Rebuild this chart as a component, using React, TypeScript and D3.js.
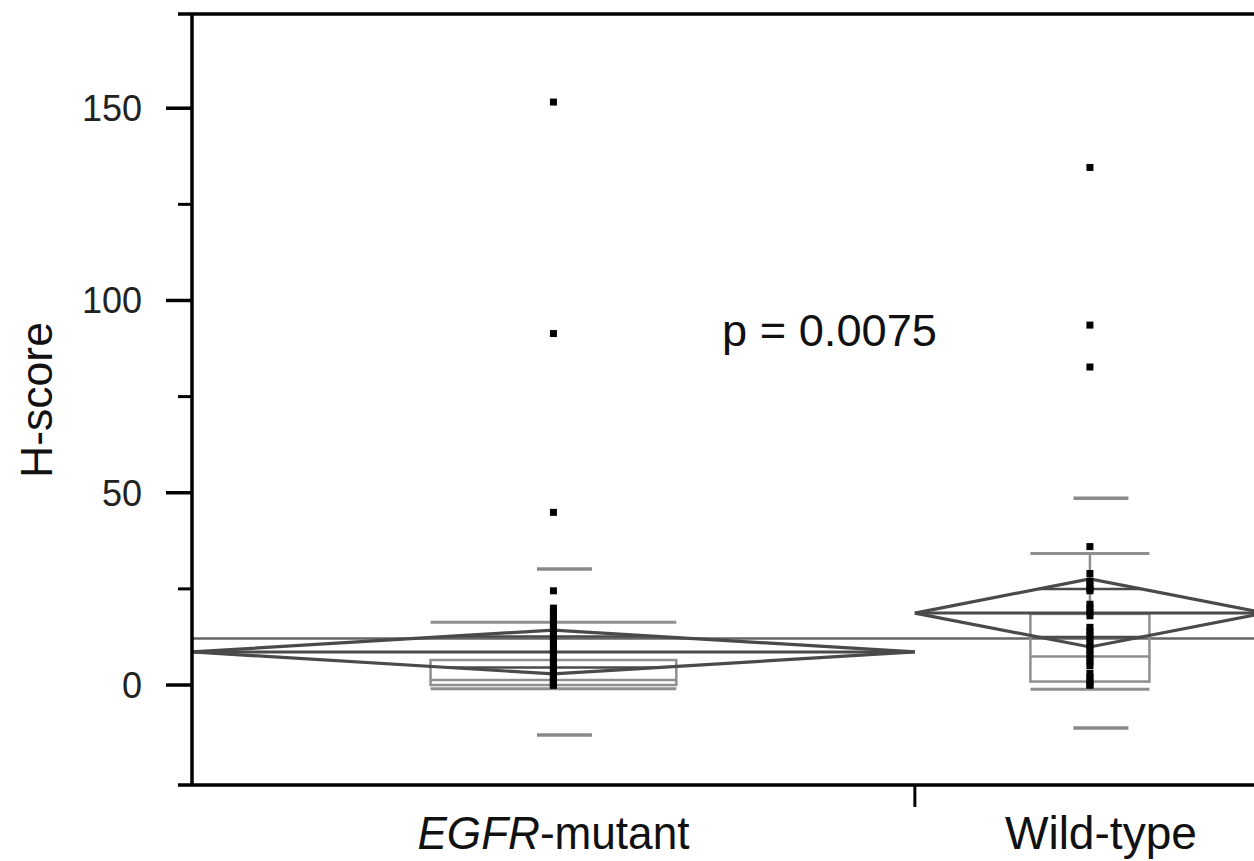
import React from "react";
import * as d3 from "d3";

// groups and summary stats (JMP-style oneway plot)
const categories = ["EGFR-mutant", "Wild-type"];
const groupCounts = [64, 31];
const groupMeans = [8.6, 18.7];
const ciLower = [2.9, 9.9];
const ciUpper = [14.3, 27.6];
const stdDevs = [21.6, 29.9];
const q10 = [-1.0, -1.1];
const q25 = [0.0, 0.9];
const medians = [1.3, 7.4];
const q75 = [6.5, 18.5];
const q90 = [16.3, 34.2];
const grandMean = 12.1;

const egfrPoints = [151.6, 91.4, 44.9, 24.5, 20, 19, 18, 17.5, 16, 15, 14, 13, 12.5, 12, 11, 10, 9.5, 9, 8, 7, 6.5, 6, 5, 4.5, 4, 3, 2.5, 2, 1.5, 1, 0.5, 0, 0, 0];
const wildPoints = [134.6, 93.6, 82.7, 36, 29, 27, 26, 25, 24.5, 21, 20, 19, 18, 15, 14, 13, 12, 11, 10, 9, 8, 7, 6, 5, 3, 2, 1, 0, 0];
const groupPoints = [egfrPoints, wildPoints];

const majorTicks = [0, 50, 100, 150];
const minorTicks = [25, 75, 125];
const pValueLabel = "p = 0.0075";

const W = 1254, H = 861;
const axisX = 192, plotTop = 14, plotBottom = 785;

export default function App() {
  const y = d3.scaleLinear().domain([-26, 174.5]).range([plotBottom, plotTop]);
  const total = d3.sum(groupCounts);
  const x = d3.scaleLinear().domain([0, total]).range([axisX, 1265]);
  const starts = d3.cumsum([0, ...groupCounts]);

  const groups = categories.map((c, i) => {
    const x0 = x(starts[i]), x1 = x(starts[i + 1]);
    return { c, i, x0, x1, cx: (x0 + x1) / 2, w: x1 - x0 };
  });

  const dark = "#4a4a4a", box = "#8f8f8f", sdc = "#8a8a8a";

  return (
    <div style={{ position: "absolute", left: 0, top: 0 }}>
      <svg width={W} height={H} style={{ display: "block", background: "#fff" }}
        fontFamily="'Liberation Sans', Arial, sans-serif">
        {/* grand mean */}
        <line x1={axisX} x2={W} y1={y(grandMean)} y2={y(grandMean)} stroke="#666" strokeWidth={2.5} />

        {groups.map(g => {
          const i = g.i;
          const bw = g.w * 0.34;
          const bx0 = g.cx - bw / 2, bx1 = g.cx + bw / 2;
          const sdx = g.cx + 11, sdw = 55;
          const m = groupMeans[i];
          const half = (ciUpper[i] - m) / Math.SQRT2;
          const halfLow = (m - ciLower[i]) / Math.SQRT2;
          const ow = (g.w / 2) * (1 - 1 / Math.SQRT2);
          const diamond = d3.line()([
            [g.x0, y(m)], [g.cx, y(ciUpper[i])], [g.x1, y(m)], [g.cx, y(ciLower[i])], [g.x0, y(m)]
          ]);
          return (
            <g key={g.c}>
              {/* quantile box */}
              <line x1={g.cx} x2={g.cx} y1={y(q75[i])} y2={y(q90[i])} stroke={box} strokeWidth={2.5} />
              <line x1={g.cx} x2={g.cx} y1={y(q25[i])} y2={y(q10[i])} stroke={box} strokeWidth={2.5} />
              <rect x={bx0} y={y(q75[i])} width={bw} height={y(q25[i]) - y(q75[i])} fill="none" stroke={box} strokeWidth={2.5} />
              <line x1={bx0} x2={bx1} y1={y(medians[i])} y2={y(medians[i])} stroke={box} strokeWidth={2.5} />
              <line x1={bx0} x2={bx1} y1={y(q90[i])} y2={y(q90[i])} stroke={box} strokeWidth={3} />
              <line x1={bx0} x2={bx1} y1={y(q10[i])} y2={y(q10[i])} stroke={box} strokeWidth={3} />
              {/* std dev lines */}
              {[m + stdDevs[i], m - stdDevs[i]].map((v, k) => (
                <line key={k} x1={sdx - sdw / 2} x2={sdx + sdw / 2} y1={y(v)} y2={y(v)} stroke={sdc} strokeWidth={3.5} />
              ))}
              {/* means diamond */}
              <path d={diamond ?? ""} fill="none" stroke={dark} strokeWidth={3.2} strokeLinejoin="miter" />
              <line x1={g.x0} x2={g.x1} y1={y(m)} y2={y(m)} stroke={dark} strokeWidth={3} />
              <line x1={g.cx - ow} x2={g.cx + ow} y1={y(m + half)} y2={y(m + half)} stroke={dark} strokeWidth={2.5} />
              <line x1={g.cx - ow} x2={g.cx + ow} y1={y(m - halfLow)} y2={y(m - halfLow)} stroke={dark} strokeWidth={2.5} />
              {/* points */}
              {groupPoints[i].map((v, k) => (
                <rect key={k} x={g.cx - 3.5} y={y(v) - 3.5} width={7} height={7} fill="#000" />
              ))}
            </g>
          );
        })}

        {/* frame and axes */}
        <line x1={178} x2={W} y1={plotTop} y2={plotTop} stroke="#000" strokeWidth={3.5} />
        <line x1={178} x2={W} y1={plotBottom} y2={plotBottom} stroke="#000" strokeWidth={3.5} />
        <line x1={axisX} x2={axisX} y1={plotTop} y2={plotBottom} stroke="#000" strokeWidth={3.5} />
        {majorTicks.map(t => (
          <g key={t}>
            <line x1={166} x2={axisX} y1={y(t)} y2={y(t)} stroke="#000" strokeWidth={3.5} />
            <text x={142} y={y(t)} dy="0.36em" textAnchor="end" fontSize={36} fill="#222">{t}</text>
          </g>
        ))}
        {minorTicks.map(t => (
          <line key={t} x1={178} x2={axisX} y1={y(t)} y2={y(t)} stroke="#000" strokeWidth={3} />
        ))}
        {groups.slice(1).map(g => (
          <line key={g.c} x1={g.x0} x2={g.x0} y1={plotBottom} y2={807} stroke="#000" strokeWidth={3} />
        ))}

        {/* x labels */}
        <text x={groups[0].cx} y={849} textAnchor="middle" fontSize={46} fill="#111" textLength={272} lengthAdjust="spacingAndGlyphs">
          <tspan fontStyle="italic">EGFR</tspan>-mutant
        </text>
        <text x={groups[1].cx + 11} y={849} textAnchor="middle" fontSize={46} fill="#111" textLength={192} lengthAdjust="spacingAndGlyphs">
          {categories[1]}
        </text>

        {/* y label */}
        <text transform="translate(52,400) rotate(-90)" textAnchor="middle" fontSize={45} fill="#111" textLength={156} lengthAdjust="spacingAndGlyphs">
          H-score
        </text>

        <text x={722} y={346} fontSize={44} fill="#111" textLength={215} lengthAdjust="spacingAndGlyphs">{pValueLabel}</text>
      </svg>
    </div>
  );
}
